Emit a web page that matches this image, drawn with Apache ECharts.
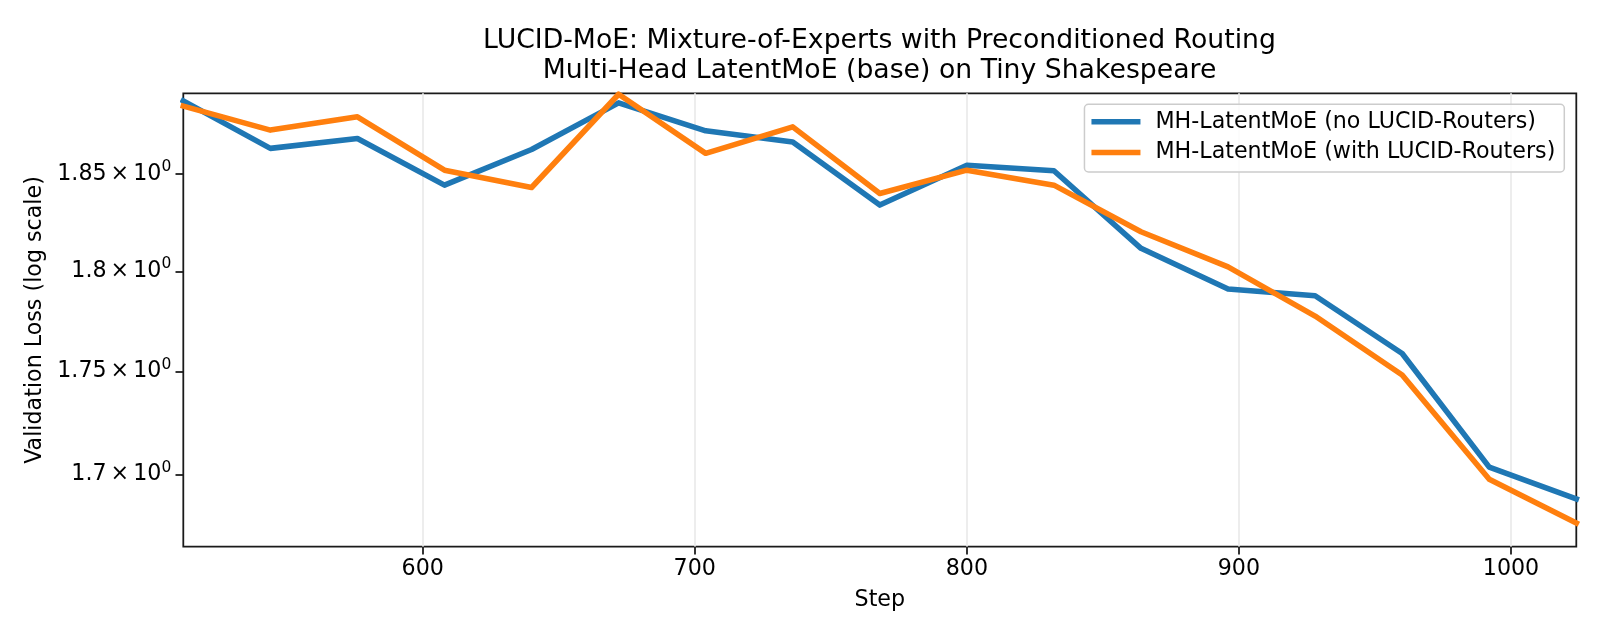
<!DOCTYPE html>
<html>
<head>
<meta charset="utf-8">
<script src="https://cdn.jsdelivr.net/npm/echarts@6/dist/echarts.min.js"></script>
<style>
  html, body { margin: 0; padding: 0; background: #ffffff; }
  #chart { width: 1600px; height: 640px; }
</style>
</head>
<body>
<div id="chart"></div>
<script>
// ---- data ----
var steps = [512, 544, 576, 608, 640, 672, 704, 736, 768, 800, 832, 864, 896, 928, 960, 992, 1024];
var noLucid = [1.8885, 1.8634, 1.8686, 1.8442, 1.8628, 1.8874, 1.8726, 1.8668, 1.8339, 1.8546, 1.8517, 1.8117, 1.7911, 1.7877, 1.7589, 1.7035, 1.6883];
var withLucid = [1.8857, 1.8730, 1.8800, 1.8520, 1.8430, 1.8920, 1.8608, 1.8747, 1.8399, 1.8520, 1.8442, 1.8202, 1.8023, 1.7775, 1.7483, 1.6977, 1.6769];
var yTicks = [1.7, 1.75, 1.8, 1.85];
var xTicks = [600, 700, 800, 900, 1000];
var seriesNames = ['MH-LatentMoE (no LUCID-Routers)', 'MH-LatentMoE (with LUCID-Routers)'];
var yMin = 1.6658, yMax = 1.8925;
var xMin = 512, xMax = 1024;

// log-scale transform (base 10)
function lg(v) { return Math.log10(v); }
function toPairs(xs, ys) { return xs.map(function (x, i) { return [x, lg(ys[i])]; }); }

var FONT = 'DejaVu Sans';
var FS = 22.2;
var chart = echarts.init(document.getElementById('chart'), null, { renderer: 'canvas' });

var option = {
  animation: false,
  backgroundColor: '#ffffff',
  textStyle: { fontFamily: FONT },
  title: {
    text: 'LUCID-MoE: Mixture-of-Experts with Preconditioned Routing\nMulti-Head LatentMoE (base) on Tiny Shakespeare',
    left: 879.5,
    top: 26,
    padding: 0,
    textAlign: 'center',
    textStyle: { fontFamily: FONT, fontSize: 26.7, fontWeight: 'normal', color: '#000000', lineHeight: 30 }
  },
  legend: {
    orient: 'vertical',
    right: 35.7,
    top: 104.3,
    padding: [5, 9, 7, 7],
    itemGap: 5.6,
    itemWidth: 49,
    itemHeight: 5.5,
    icon: 'rect',
    backgroundColor: 'rgba(255,255,255,0.8)',
    borderColor: '#cccccc',
    borderWidth: 1.5,
    borderRadius: 4,
    textStyle: { fontFamily: FONT, fontSize: FS, color: '#000000', lineHeight: 25, padding: [0, 0, 0, 10] },
    data: seriesNames
  },
  grid: {
    left: 183.3,
    right: 23.7,
    top: 93.3,
    bottom: 93.3,
    show: true,
    borderColor: '#1a1a1a',
    borderWidth: 1.78,
    backgroundColor: 'transparent',
    containLabel: false
  },
  xAxis: {
    type: 'value',
    min: xMin,
    max: xMax,
    name: 'Step',
    nameLocation: 'middle',
    nameGap: 43,
    nameTextStyle: { fontFamily: FONT, fontSize: FS, color: '#000000' },
    axisLine: { show: false },
    axisTick: { show: true, length: 7.8, customValues: xTicks, lineStyle: { color: '#1a1a1a', width: 1.78 } },
    axisLabel: {
      customValues: xTicks, margin: 11.5, fontFamily: FONT, fontSize: FS, color: '#000000',
      formatter: function (v) { return String(v); }
    },
    splitLine: { show: true, lineStyle: { color: '#ebebeb', width: 1.78 } }
  },
  yAxis: {
    type: 'value',
    min: lg(yMin),
    max: lg(yMax),
    name: 'Validation Loss (log scale)',
    nameLocation: 'middle',
    nameRotate: 90,
    nameGap: 127,
    nameTextStyle: { fontFamily: FONT, fontSize: FS, color: '#000000' },
    axisLine: { show: false },
    axisTick: { show: true, length: 7.8, customValues: yTicks.map(lg), lineStyle: { color: '#1a1a1a', width: 1.78 } },
    axisLabel: {
      customValues: yTicks.map(lg),
      margin: 12,
      formatter: function (v) {
        var raw = Math.round(Math.pow(10, v) * 100) / 100;
        return '{a|' + raw + '}{x|\u00d7}{a|10}{s|0}';
      },
      rich: {
        a: { fontFamily: FONT, fontSize: FS, color: '#000000', lineHeight: 30 },
        x: { fontFamily: FONT, fontSize: FS, color: '#000000', lineHeight: 30, padding: [0, 4, 0, 4] },
        s: { fontFamily: FONT, fontSize: 15.5, color: '#000000', lineHeight: 15, verticalAlign: 'top' }
      }
    },
    splitLine: { show: false }
  },
  series: [
    {
      name: seriesNames[0],
      type: 'line',
      data: toPairs(steps, noLucid),
      symbol: 'none',
      color: '#1f77b4',
      lineStyle: { color: '#1f77b4', width: 5.56, join: 'round', cap: 'square' },
      z: 2
    },
    {
      name: seriesNames[1],
      type: 'line',
      data: toPairs(steps, withLucid),
      symbol: 'none',
      color: '#ff7f0e',
      lineStyle: { color: '#ff7f0e', width: 5.56, join: 'round', cap: 'square' },
      z: 3
    }
  ]
};
chart.setOption(option);
</script>
</body>
</html>
